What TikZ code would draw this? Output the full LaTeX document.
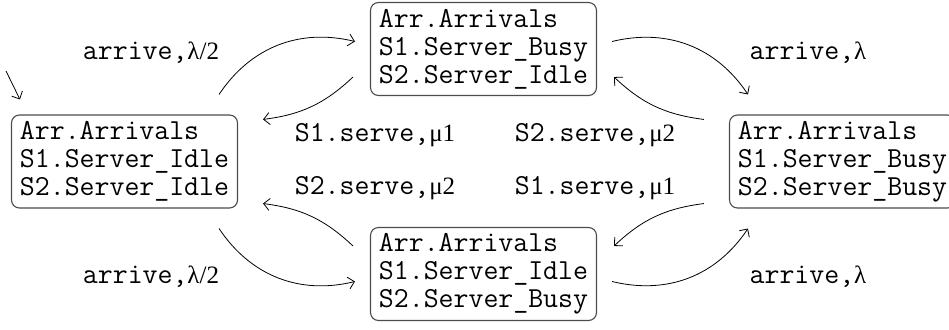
\documentclass[tikz,border=0pt]{standalone}
\usepackage{fontspec}
\newfontfamily\gkfont{Liberation Serif}
\usetikzlibrary{arrows.meta}
\newcommand{\gk}[1]{{\gkfont\fontsize{25}{28}\selectfont #1}}

\begin{document}
\begin{tikzpicture}[
      x = 1pt, y = 1pt,
      font = \ttfamily\fontsize{29}{28}\selectfont,
      state/.style = {draw = black!70, line width = 1.1pt, rounded corners = 8pt,
        align = left, minimum width = 226pt, minimum height = 93pt, inner sep = 5pt},
      lbl/.style = {inner sep = 0pt},
      trans/.style = {-{Straight Barb[length = 6pt, width = 12pt]}, line width = 0.8pt}]

      \useasboundingbox (0,0) rectangle (949,329);

      \node [state] (L) at (124.5,167.5) {Arr.Arrivals\\S1.Server\_Idle\\S2.Server\_Idle};
      \node [state] (T) at (483.5,280) {Arr.Arrivals\\S1.Server\_Busy\\S2.Server\_Idle};
      \node [state] (R) at (842.5,167.5) {Arr.Arrivals\\S1.Server\_Busy\\S2.Server\_Busy};
      \node [state] (B) at (483.5,55) {Arr.Arrivals\\S1.Server\_Idle\\S2.Server\_Busy};

      \node [lbl] (a1) at (151,276) {arrive,\gk{λ/2}};
      \node [lbl] (a2) at (808,276) {arrive,\gk{λ}};
      \node [lbl] (a3) at (151,52) {arrive,\gk{λ/2}};
      \node [lbl] (a4) at (808,52) {arrive,\gk{λ}};
      \node [lbl] (s1) at (375,194) {S1.serve,\gk{μ1}};
      \node [lbl] (s2) at (595,194) {S2.serve,\gk{μ2}};
      \node [lbl] (s3) at (375,141) {S2.serve,\gk{μ2}};
      \node [lbl] (s4) at (595,141) {S1.serve,\gk{μ1}};

      \coordinate (init) at (6,258);
      \draw [trans] (init) -- ([xshift = 9pt, yshift = 15pt]L.north west);

      \draw [trans] ([xshift = -19pt, yshift = 20pt]L.north east) to[bend left = 35] ([xshift = -15pt, yshift = 7.5pt]T.west);
      \draw [trans] ([xshift = -17pt, yshift = 19pt]T.south west) to[bend left = 18] ([xshift = 25pt, yshift = -5pt]L.north east);
      \draw [trans] ([xshift = 15pt, yshift = 7.5pt]T.east) to[bend left = 35] ([xshift = 19pt, yshift = 20pt]R.north west);
      \draw [trans] ([xshift = -25pt, yshift = -5pt]R.north west) to[bend left = 18] ([xshift = 17pt, yshift = 19pt]T.south east);

      \draw [trans] ([xshift = -19pt, yshift = -20pt]L.south east) to[bend right = 35] ([xshift = -15pt, yshift = -7.5pt]B.west);
      \draw [trans] ([xshift = -17pt, yshift = -19pt]B.north west) to[bend right = 18] ([xshift = 25pt, yshift = 5pt]L.south east);
      \draw [trans] ([xshift = 15pt, yshift = -7.5pt]B.east) to[bend right = 35] ([xshift = 19pt, yshift = -20pt]R.south west);
      \draw [trans] ([xshift = -25pt, yshift = 5pt]R.south west) to[bend right = 18] ([xshift = 17pt, yshift = -19pt]B.north east);
  \end{tikzpicture}
\end{document}
